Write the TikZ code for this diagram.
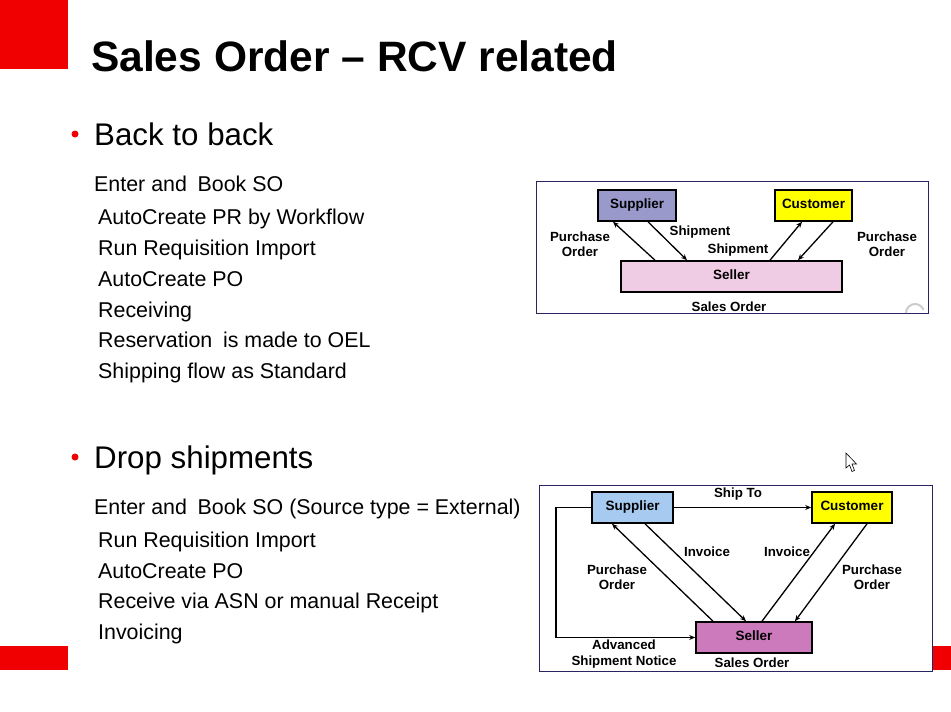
\documentclass[tikz,border=0pt]{standalone}
\usepackage{fontspec}
\setmainfont{Liberation Sans}
\usetikzlibrary{arrows.meta}
\definecolor{oraRed}{RGB}{240,0,0}
\definecolor{frameC}{RGB}{40,36,100}
\definecolor{supA}{RGB}{153,153,204}
\definecolor{supB}{RGB}{166,202,240}
\definecolor{custY}{RGB}{255,255,0}
\definecolor{sellA}{RGB}{240,204,228}
\definecolor{sellB}{RGB}{204,122,188}
\tikzset{
  item/.style={anchor=base west, inner sep=0pt, font=\fontsize{21.4}{25}\selectfont},
  head/.style={anchor=base west, inner sep=0pt, font=\fontsize{31.3}{36}\selectfont},
  ebox/.style={draw=black, line width=1.6pt, inner sep=0pt, text height=0.72em, text depth=0.05em, font=\fontsize{13.5}{15}\selectfont\bfseries},
  lbl/.style={inner sep=0pt, align=center, font=\fontsize{13.3}{15.5}\selectfont\bfseries},
  arr/.style={line width=1.3pt, -{Stealth[length=6pt,width=5pt]}},
  frame/.style={draw=frameC, line width=1pt, fill=white}
}
\begin{document}
\begin{tikzpicture}[x=1pt,y=-1pt]
\useasboundingbox (0,0) rectangle (951,712);
\fill[white] (0,0) rectangle (951,712);
% red decorations
\fill[oraRed] (0,0) rectangle (68,69);
\fill[oraRed] (0,646) rectangle (68,670);
\fill[oraRed] (932,646) rectangle (951,670);
% title
\node[anchor=base west, inner sep=0pt, font=\fontsize{42.5}{50}\selectfont\bfseries] (title) at (91,71) {Sales Order \textendash\ RCV related};
% bullets
\fill[oraRed] (75,134) circle (3.5pt);
\fill[oraRed] (75,457) circle (3.5pt);
\node[head] (h1) at (94,145) {Back to back};
\node[head] (h2) at (94,468) {Drop shipments};
% first list
\node[item] (a1) at (94,191) {Enter and\hspace{0.5em}Book SO};
\node[item] (a2) at (98,224) {AutoCreate PR by Workflow};
\node[item] (a3) at (98,255) {Run Requisition Import};
\node[item] (a4) at (98,286) {AutoCreate PO};
\node[item] (a5) at (98,317) {Receiving};
\node[item] (a6) at (98,347) {Reservation\hspace{0.5em}is made to OEL};
\node[item] (a7) at (98,378) {Shipping flow as Standard};
% second list
\node[item] (b1) at (94,514) {Enter and\hspace{0.5em}Book SO (Source type = External)};
\node[item] (b2) at (98,547) {Run Requisition Import};
\node[item] (b3) at (98,578) {AutoCreate PO};
\node[item] (b4) at (98,608) {Receive via ASN or manual Receipt};
\node[item] (b5) at (98,639) {Invoicing};

% ---------- top diagram ----------
\draw[frame] (536,181) rectangle (928,313);
\draw[gray!40, line width=2pt] (906,313) arc (180:20:9pt);
\node[ebox, fill=supA, minimum width=78pt, minimum height=31pt] (s1) at (637,205.5) {Supplier};
\node[ebox, fill=custY, minimum width=77pt, minimum height=31pt] (c1) at (813.5,205.5) {Customer};
\node[ebox, fill=sellA, minimum width=221pt, minimum height=31pt] (se1) at (731.5,276.5) {Seller};
\draw[arr] ([xshift=-76.5pt]se1.north) -- ([xshift=-24pt]s1.south);
\draw[arr] ([xshift=11pt]s1.south) -- ([xshift=-44.5pt]se1.north);
\draw[arr] ([xshift=38.5pt]se1.north) -- ([xshift=-11.5pt]c1.south);
\draw[arr] ([xshift=19.5pt]c1.south) -- ([xshift=66.5pt]se1.north);
\node[lbl] (t1) at (580,244) {Purchase\\Order};
\node[lbl] (t2) at (700,232) {Shipment};
\node[lbl] (t3) at (738,250) {Shipment};
\node[lbl] (t4) at (887,244) {Purchase\\Order};
\node[lbl] (t5) at (729,307) {Sales Order};

% ---------- bottom diagram ----------
\draw[frame] (539,485) rectangle (932,671);
\node[ebox, fill=supB, minimum width=81pt, minimum height=31pt] (s2) at (632.5,507.5) {Supplier};
\node[ebox, fill=custY, minimum width=80pt, minimum height=31pt] (c2) at (852,507.5) {Customer};
\node[ebox, fill=sellB, minimum width=116pt, minimum height=31pt] (se2) at (754,637.5) {Seller};
\coordinate (asn) at (556,507.5);
\draw[arr] (s2.east) -- (c2.west);
\draw[arr] (s2.west) -- (asn) |- (se2.west);
\draw[arr] ([xshift=-41pt]se2.north) -- ([xshift=-20.5pt]s2.south);
\draw[arr] ([xshift=12.5pt]s2.south) -- ([xshift=-8pt]se2.north);
\draw[arr] ([xshift=8pt]se2.north) -- ([xshift=-17pt]c2.south);
\draw[arr] ([xshift=15pt]c2.south) -- ([xshift=41pt]se2.north);
\node[lbl] (u1) at (738,494) {Ship To};
\node[lbl] (u2) at (707,552) {Invoice};
\node[lbl] (u3) at (787,552) {Invoice};
\node[lbl] (u4) at (617,577) {Purchase\\Order};
\node[lbl] (u5) at (872,577) {Purchase\\Order};
\node[lbl] (u6) at (624,654) {Advanced\\Shipment Notice};
\node[lbl] (u7) at (752,663) {Sales Order};

% mouse cursor
\draw[black, fill=white, line width=0.6pt, line join=miter]
  (846,453) -- (846,468) -- (849.5,465) -- (852,471.5) -- (854.5,470.5) -- (852,464) -- (856.5,464) -- cycle;
\end{tikzpicture}
\end{document}
